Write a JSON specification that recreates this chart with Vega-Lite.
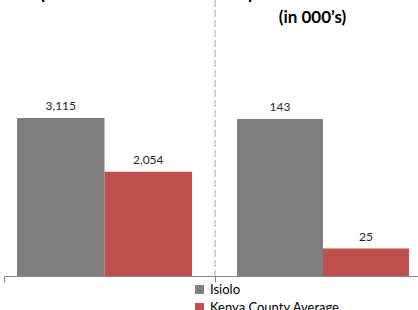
{
  "$schema": "https://vega.github.io/schema/vega-lite/v6.json",
  "width": 414,
  "height": 276,
  "autosize": {"type": "none"},
  "padding": {"left": 4, "top": 0, "right": 0, "bottom": 34},
  "background": "white",
  "config": {
    "font": "Lato",
    "view": {"stroke": null},
    "legend": {
      "orient": "none",
      "legendX": 189,
      "legendY": 283,
      "title": null,
      "padding": 0,
      "symbolType": "square",
      "symbolSize": 81,
      "symbolStrokeWidth": 0,
      "labelFontSize": 13,
      "labelColor": "#000000",
      "labelOffset": 4,
      "rowPadding": 4,
      "clipHeight": 13
    }
  },
  "data": {
    "values": [
      {"indicator": "Population Per Nurse", "series": "Isiolo", "value": 3115},
      {"indicator": "Population Per Nurse", "series": "Kenya County Average", "value": 2054},
      {"indicator": "Population Per Doctor (in 000’s)", "series": "Isiolo", "value": 143},
      {"indicator": "Population Per Doctor (in 000’s)", "series": "Kenya County Average", "value": 25}
    ]
  },
  "layer": [
    {
      "transform": [{"filter": "datum.indicator == 'Population Per Nurse'"}],
      "encoding": {
        "x": {
          "field": "indicator",
          "type": "nominal",
          "scale": {"domain": ["Population Per Nurse", "Population Per Doctor (in 000’s)"], "range": [0, 422], "paddingInner": 0, "paddingOuter": 0},
          "axis": {"orient": "bottom", "labels": false, "title": null, "domainColor": "#868686", "tickColor": "#868686", "tickSize": 6, "tickBand": "extent", "grid": false}
        },
        "xOffset": {"field": "series", "type": "nominal", "scale": {"paddingInner": 0, "paddingOuter": 0.2057, "align": 0.361}},
        "y": {"field": "value", "type": "quantitative", "scale": {"domain": [0, 5440], "nice": false}, "axis": null}
      },
      "layer": [
        {
          "mark": {"type": "bar"},
          "encoding": {
            "color": {"field": "series", "type": "nominal", "scale": {"domain": ["Isiolo", "Kenya County Average"], "range": ["#7F7F7F", "#C0504D"]}}
          }
        },
        {
          "mark": {"type": "text", "dy": -8, "baseline": "alphabetic", "fontSize": 12, "color": "#262626"},
          "encoding": {"text": {"field": "value", "type": "quantitative", "format": ","}}
        }
      ]
    },
    {
      "transform": [{"filter": "datum.indicator != 'Population Per Nurse'"}],
      "encoding": {
        "x": {
          "field": "indicator",
          "type": "nominal",
          "scale": {"domain": ["Population Per Nurse", "Population Per Doctor (in 000’s)"], "range": [0, 422], "paddingInner": 0, "paddingOuter": 0},
          "axis": {"orient": "top", "domain": false, "ticks": false, "title": null, "grid": false, "labelAngle": 0, "labelFontSize": 17, "labelFontWeight": "bold", "labelColor": "#000000", "labelPadding": 2, "labelLineHeight": 24, "labelBaseline": "alphabetic", "labelOffset": -8, "labelOverlap": false, "labelBound": false, "labelLimit": 0,
            "labelExpr": "datum.value == 'Population Per Nurse' ? ['Population Per Nurse'] : ['Population Per Doctor', '(in 000’s)']"}
        },
        "xOffset": {"field": "series", "type": "nominal", "scale": {"paddingInner": 0, "paddingOuter": 0.2267, "align": 0.564}},
        "y": {"field": "value", "type": "quantitative", "scale": {"domain": [0, 251.4], "nice": false}, "axis": null}
      },
      "layer": [
        {
          "mark": {"type": "bar"},
          "encoding": {
            "color": {"field": "series", "type": "nominal", "scale": {"domain": ["Isiolo", "Kenya County Average"], "range": ["#7F7F7F", "#C0504D"]}}
          }
        },
        {
          "mark": {"type": "text", "dy": -8, "baseline": "alphabetic", "fontSize": 12, "color": "#262626"},
          "encoding": {"text": {"field": "value", "type": "quantitative", "format": ","}}
        }
      ]
    },
    {
      "data": {"values": [{"boundary": "Population Per Doctor (in 000’s)"}]},
      "mark": {"type": "rule", "strokeDash": [7, 3], "color": "#A6A6A6", "strokeWidth": 1},
      "encoding": {
        "x": {"field": "boundary", "type": "nominal", "bandPosition": 0, "axis": null,
          "scale": {"domain": ["Population Per Nurse", "Population Per Doctor (in 000’s)"], "range": [0, 422], "paddingInner": 0, "paddingOuter": 0}}
      }
    }
  ],
  "resolve": {"scale": {"y": "independent", "xOffset": "independent"}, "axis": {"x": "independent"}}
}
